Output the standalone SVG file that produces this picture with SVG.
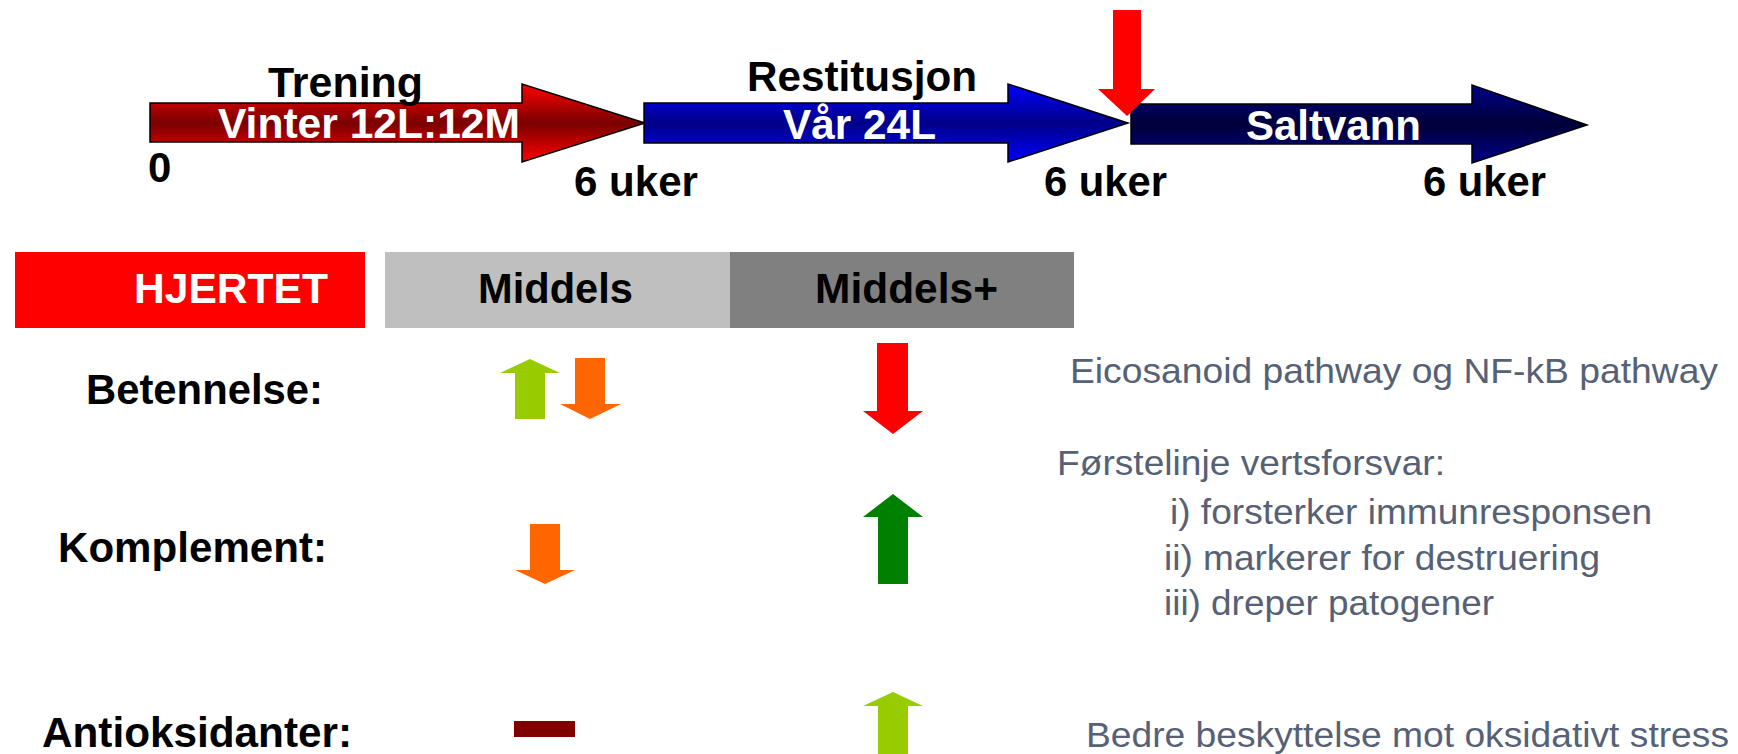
<svg xmlns="http://www.w3.org/2000/svg" width="1738" height="754" viewBox="0 0 1738 754">
  <defs>
    <linearGradient id="gRed" x1="0" y1="0" x2="0" y2="1">
      <stop offset="0" stop-color="#FF0000"/>
      <stop offset="0.5" stop-color="#7A0000"/>
      <stop offset="1" stop-color="#FF0000"/>
    </linearGradient>
    <linearGradient id="gBlue" x1="0" y1="0" x2="0" y2="1">
      <stop offset="0" stop-color="#0000FF"/>
      <stop offset="0.5" stop-color="#000088"/>
      <stop offset="1" stop-color="#0000FF"/>
    </linearGradient>
    <linearGradient id="gNavy" x1="0" y1="0" x2="0" y2="1">
      <stop offset="0" stop-color="#000088"/>
      <stop offset="0.5" stop-color="#00003A"/>
      <stop offset="1" stop-color="#000088"/>
    </linearGradient>
  </defs>
  <style>
    .b { font-family: "Liberation Sans", Arial, sans-serif; font-weight: bold; font-size: 42px; fill: #000; }
    .w { fill: #FFFFFF; }
    .r { font-family: "Liberation Sans", Arial, sans-serif; font-size: 35px; fill: #566176; }
    .tl { stroke: #000; stroke-width: 1.5; stroke-linejoin: miter; }
    .lg { fill: #99CC00; }
    .or { fill: #FF6600; }
    .rd { fill: #FF0000; }
    .gr { fill: #008000; }
    .dr { fill: #800000; }
  </style>

  <rect width="1738" height="754" fill="#FFFFFF"/>

  <g id="timeline">
    <g id="phase-trening">
      <polygon class="tl" fill="url(#gRed)" points="150,103 522,103 522,84 645,123 522,162 522,142 150,142"/>
      <text class="b" x="268" y="97" textLength="155" lengthAdjust="spacingAndGlyphs">Trening</text>
      <text class="b w" x="218" y="138" textLength="302" lengthAdjust="spacingAndGlyphs">Vinter 12L:12M</text>
    </g>
    <g id="phase-restitusjon">
      <polygon class="tl" fill="url(#gBlue)" points="644,103 1008,103 1008,84 1128,123 1008,162 1008,143 644,143"/>
      <text class="b" x="747" y="91" textLength="230" lengthAdjust="spacingAndGlyphs">Restitusjon</text>
      <text class="b w" x="783" y="139" textLength="153" lengthAdjust="spacingAndGlyphs">Vår 24L</text>
    </g>
    <g id="phase-saltvann">
      <polygon class="tl" fill="url(#gNavy)" points="1131,104 1472,104 1472,85 1587,125 1472,163 1472,144 1131,144"/>
      <text class="b w" x="1246" y="140" textLength="175" lengthAdjust="spacingAndGlyphs">Saltvann</text>
    </g>
    <g id="sampling-marker">
      <polygon class="rd" points="1113,10 1141,10 1141,89 1155,89 1127,116 1098,89 1113,89"/>
    </g>
    <g id="time-labels">
      <text class="b" x="148" y="182">0</text>
      <text class="b" x="574" y="196" textLength="124" lengthAdjust="spacingAndGlyphs">6 uker</text>
      <text class="b" x="1044" y="196" textLength="123" lengthAdjust="spacingAndGlyphs">6 uker</text>
      <text class="b" x="1423" y="196" textLength="123" lengthAdjust="spacingAndGlyphs">6 uker</text>
    </g>
  </g>

  <g id="header">
    <g id="hjertet">
      <rect x="15" y="252" width="350" height="76" fill="#FF0000"/>
      <text class="b w" x="134" y="303" textLength="194" lengthAdjust="spacingAndGlyphs">HJERTET</text>
    </g>
    <g id="middels">
      <rect x="385" y="252" width="345" height="76" fill="#BFBFBF"/>
      <text class="b" x="478" y="303" textLength="155" lengthAdjust="spacingAndGlyphs">Middels</text>
    </g>
    <g id="middels-plus">
      <rect x="730" y="252" width="344" height="76" fill="#808080"/>
      <text class="b" x="815" y="303" textLength="183" lengthAdjust="spacingAndGlyphs">Middels+</text>
    </g>
  </g>

  <g id="row-betennelse">
    <text class="b" x="86" y="404" textLength="237" lengthAdjust="spacingAndGlyphs">Betennelse:</text>
    <polygon class="lg" points="530,359 560,373 545,373 545,419 515,419 515,373 500,373"/>
    <polygon class="or" points="575,358 605,358 605,404 621,404 590,419 560,404 575,404"/>
    <polygon class="rd" points="877,343 908,343 908,411 923,411 893,434 863,411 877,411"/>
    <text class="r" x="1070" y="383" textLength="648" lengthAdjust="spacingAndGlyphs">Eicosanoid pathway og NF-kB pathway</text>
  </g>

  <g id="row-komplement">
    <text class="b" x="58" y="562" textLength="269" lengthAdjust="spacingAndGlyphs">Komplement:</text>
    <polygon class="or" points="530,524 560,524 560,570 575,570 545,584 515,570 530,570"/>
    <polygon class="gr" points="893,494 923,517 908,517 908,584 878,584 878,517 863,517"/>
    <text class="r" x="1057" y="475" textLength="388" lengthAdjust="spacingAndGlyphs">Førstelinje vertsforsvar:</text>
    <text class="r" x="1170" y="524" textLength="482" lengthAdjust="spacingAndGlyphs">i) forsterker immunresponsen</text>
    <text class="r" x="1164" y="570" textLength="436" lengthAdjust="spacingAndGlyphs">ii) markerer for destruering</text>
    <text class="r" x="1164" y="615" textLength="330" lengthAdjust="spacingAndGlyphs">iii) dreper patogener</text>
  </g>

  <g id="row-antioksidanter">
    <text class="b" x="42" y="747" textLength="310" lengthAdjust="spacingAndGlyphs">Antioksidanter:</text>
    <rect class="dr" x="514" y="721" width="61" height="16"/>
    <polygon class="lg" points="893,692 923,706 908,706 908,760 878,760 878,706 863,706"/>
    <text class="r" x="1086" y="747" textLength="643" lengthAdjust="spacingAndGlyphs">Bedre beskyttelse mot oksidativt stress</text>
  </g>

  <g id="connectors"></g>
</svg>
